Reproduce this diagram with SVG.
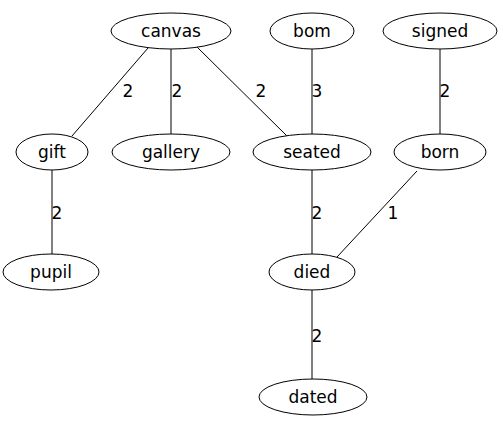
<svg xmlns="http://www.w3.org/2000/svg" width="503" height="429" viewBox="0 0 503 429">
<style>
.n ellipse{fill:#fff;stroke:#000;stroke-width:1}
.n text{font-family:"DejaVu Sans",sans-serif;font-size:17px;text-anchor:middle;fill:#000}
.e line{stroke:#000;stroke-width:1}
.e text{font-family:"DejaVu Sans",sans-serif;font-size:17px;text-anchor:middle;fill:#000}
</style>
<rect width="503" height="429" fill="#fff"/>
<g id="edges" class="e">
<line x1="148" y1="48" x2="72" y2="136"/>
<line x1="171" y1="49" x2="171" y2="134"/>
<line x1="197" y1="47" x2="287" y2="136"/>
<line x1="312" y1="49" x2="312" y2="134"/>
<line x1="440" y1="49" x2="440" y2="134"/>
<line x1="52" y1="170" x2="52" y2="254"/>
<line x1="312" y1="170" x2="312" y2="254"/>
<line x1="417" y1="171" x2="337" y2="257"/>
<line x1="312" y1="290" x2="312" y2="379"/>
<text x="128" y="97">2</text>
<text x="177" y="97">2</text>
<text x="261" y="97">2</text>
<text x="317" y="97">3</text>
<text x="445" y="97">2</text>
<text x="57" y="219">2</text>
<text x="317" y="219">2</text>
<text x="393" y="219">1</text>
<text x="317" y="342">2</text>
</g>
<g id="canvas" class="n"><ellipse cx="171" cy="31" rx="60" ry="18"/><text x="171" y="37">canvas</text></g>
<g id="bom" class="n"><ellipse cx="312" cy="31" rx="42" ry="18"/><text x="312" y="37">bom</text></g>
<g id="signed" class="n"><ellipse cx="440" cy="31" rx="57" ry="18"/><text x="440" y="37">signed</text></g>
<g id="gift" class="n"><ellipse cx="52" cy="152" rx="36" ry="18"/><text x="52" y="158">gift</text></g>
<g id="gallery" class="n"><ellipse cx="171" cy="152" rx="59" ry="18"/><text x="171" y="158">gallery</text></g>
<g id="seated" class="n"><ellipse cx="312" cy="152" rx="59" ry="18"/><text x="312" y="158">seated</text></g>
<g id="born" class="n"><ellipse cx="440" cy="152" rx="46" ry="18"/><text x="440" y="158">born</text></g>
<g id="pupil" class="n"><ellipse cx="51" cy="272" rx="48" ry="18"/><text x="51" y="278">pupil</text></g>
<g id="died" class="n"><ellipse cx="312" cy="272" rx="43" ry="18"/><text x="312" y="278">died</text></g>
<g id="dated" class="n"><ellipse cx="313" cy="397" rx="54" ry="18"/><text x="313" y="403">dated</text></g>
</svg>
